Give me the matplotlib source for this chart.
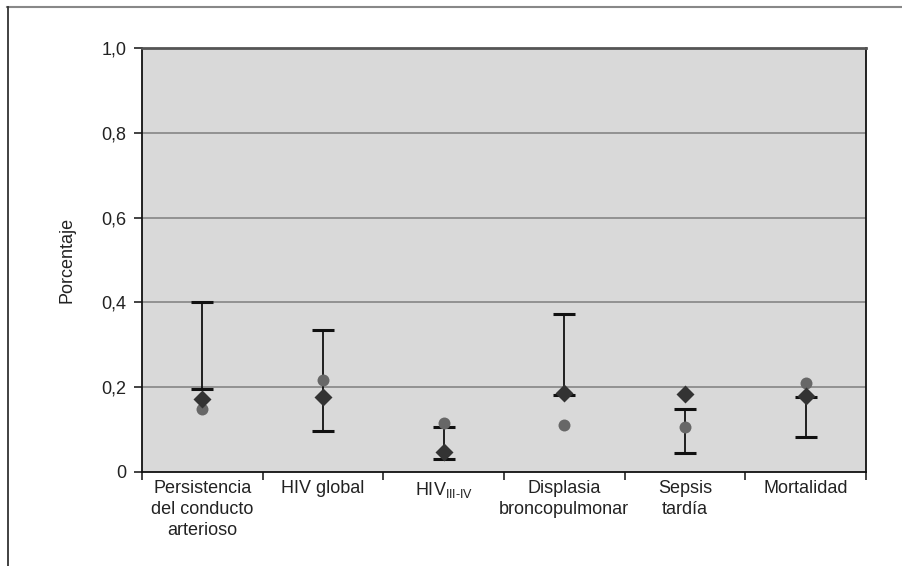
import matplotlib
matplotlib.use("Agg")
import matplotlib.pyplot as plt
from matplotlib.lines import Line2D
import numpy as np

plt.rcParams['font.family'] = ['Liberation Sans', 'DejaVu Sans']
plt.rcParams['mathtext.fontset'] = 'custom'
plt.rcParams['mathtext.rm'] = 'Liberation Sans'

categories = ["Persistencia\ndel conducto\narterioso", "HIV global",
              r"HIV$_{\mathregular{III\text{-}IV}}$",
              "Displasia\nbroncopulmonar", "Sepsis\ntardía", "Mortalidad"]
ci_low = [0.195, 0.097, 0.030, 0.181, 0.044, 0.082]
ci_high = [0.400, 0.334, 0.107, 0.372, 0.149, 0.177]
diamond_vals = [0.171, 0.178, 0.046, 0.186, 0.184, 0.179]
circle_vals = [0.148, 0.217, 0.116, 0.111, 0.105, 0.209]
y_ticks = [0.0, 0.2, 0.4, 0.6, 0.8, 1.0]
y_ticklabels = ["0", "0,2", "0,4", "0,6", "0,8", "1,0"]

W, H = 903, 566
fig = plt.figure(figsize=(W / 100, H / 100), dpi=100)
ax = fig.add_axes([142 / W, 1 - 472 / H, (866 - 142) / W, (472 - 48) / H])
ax.set_facecolor('#d9d9d9')

x = np.arange(len(categories)) + 0.5
low = np.array(ci_low)
high = np.array(ci_high)
mid = (low + high) / 2
half = (high - low) / 2

for yv in y_ticks[1:-1]:
    ax.axhline(yv, color='#8c8c8c', lw=1.3, zorder=1)

ax.errorbar(x, mid, yerr=half, fmt='none', ecolor='#111111', elinewidth=1.3,
            capsize=8, capthick=2.2, zorder=3)
ax.plot(x, circle_vals, 'o', color='#676767', ms=8.6, mec='none', zorder=4)
ax.plot(x, diamond_vals, 'D', color='#333333', ms=8.8, mec='none', zorder=5)

ax.set_xlim(0, len(categories))
ax.set_ylim(0, 1.0)
ax.set_yticks(y_ticks)
ax.set_yticklabels(y_ticklabels)
ax.set_xticks(np.arange(len(categories) + 1))
ax.set_xticklabels([])
ax.set_xticks(x, minor=True)
ax.set_xticklabels(categories, minor=True, fontsize=13, color='#222222',
                   linespacing=1.3, va='top')
ax.tick_params(axis='x', which='minor', length=0, pad=6)
ax.tick_params(axis='x', which='major', length=6, width=1.2, color='#222222')
ax.tick_params(axis='y', length=6, width=1.2, color='#222222', labelsize=13,
               labelcolor='#222222', pad=5)

for s in ['left', 'bottom', 'right']:
    ax.spines[s].set_color('#111111')
    ax.spines[s].set_linewidth(1.3)
ax.spines['top'].set_color('#555555')
ax.spines['top'].set_linewidth(2)

ax.set_ylabel("Porcentaje", fontsize=13, color='#222222', labelpad=19)

# outer frame (top and left lines)
fig.add_artist(Line2D([7 / W, 1], [1 - 6.5 / H, 1 - 6.5 / H], transform=fig.transFigure,
                      color='#888888', lw=1.5))
fig.add_artist(Line2D([7.5 / W, 7.5 / W], [0, 1 - 6.5 / H], transform=fig.transFigure,
                      color='#333333', lw=1.3))

fig.savefig("out.png", dpi=100)
